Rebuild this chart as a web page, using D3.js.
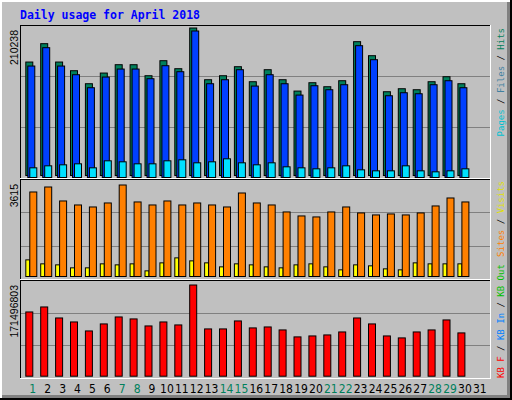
<!DOCTYPE html>
<html><head><meta charset="utf-8">
<script src="https://cdn.jsdelivr.net/npm/d3@7"></script>
<style>body{margin:0;background:#fff}svg{display:block}</style>
</head><body><svg width="512" height="400"></svg>
<script>
const days = d3.range(1, 32);
const weekend = [1, 7, 8, 14, 15, 21, 22, 28, 29];
const hits = [161721,187882,161721,149354,130804,146025,157916,157916,142220,163624,152208,210238,136512,142220,155062,133658,150781,136512,120340,132231,126523,135085,190735,170758,119388,123669,122242,133658,140792,130804];
const files = [158867,185028,158867,146500,127950,143171,154586,154586,140792,159343,150781,208811,133658,139365,153635,130328,146500,133658,117486,130804,125096,132231,187882,167904,116534,120815,119388,132231,137939,127950];
const pages = [13794,16648,18075,19502,13794,23783,22356,19502,19502,23783,25210,20929,22356,26636,20929,18075,20929,15221,13794,12367,13794,16648,10940,9513,9513,16648,9513,8086,9513,12367];
const sites = [3339,3536,2984,2826,2747,2905,3615,2945,2826,2984,2826,2905,2826,2747,3299,2905,2826,2550,2392,2353,2550,2747,2511,2432,2471,2432,2511,2787,3102,2945];
const visits = [657,500,460,342,342,500,460,500,223,539,736,618,539,381,500,460,381,342,460,500,381,263,460,421,302,263,539,500,500,500];
const kbytes = [120.8,130.2,109.5,102.0,85.1,98.3,111.4,107.7,94.5,102.0,96.4,171.5,88.9,88.9,103.9,90.8,92.6,87.0,73.9,75.7,77.6,83.2,109.5,98.3,75.7,72.0,83.2,87.0,105.8,81.4].map(v => Math.round(v * 1e6));

const svg = d3.select("svg");
// frame
svg.append("rect").attr("width", 512).attr("height", 400).attr("fill", "#000");
svg.append("rect").attr("width", 510).attr("height", 398).attr("fill", "#fff");
svg.append("rect").attr("x", 2).attr("y", 2).attr("width", 508).attr("height", 396).attr("fill", "#808080");
svg.append("rect").attr("x", 2).attr("y", 2).attr("width", 505).attr("height", 393).attr("fill", "#c0c0c0");

svg.append("text").attr("x", 20).attr("y", 19).text("Daily usage for April 2018")
  .attr("fill", "#0000ff").attr("font-family", "DejaVu Sans Mono").attr("font-weight", "bold").attr("font-size", 11.5);

const x = d3.scaleLinear().domain([1, 31]).range([25.3, 25.3 + 30 * 14.9]);

const panels = [
  {top: 25, bot: 177, max: d3.max(hits), label: "210238"},
  {top: 180, bot: 276, max: d3.max(sites), label: "3615"},
  {top: 280, bot: 375.7, max: d3.max(kbytes), label: "171496803"}
];
const panelBox = [[25, 178], [179, 279], [280, 378]];
panelBox.forEach(([t, b], i) => {
  const g = svg.append("g");
  g.append("line").attr("x1", 20).attr("x2", 491).attr("y1", t + 0.5).attr("y2", t + 0.5).attr("stroke", "#000");
  g.append("line").attr("x1", 20.5).attr("x2", 20.5).attr("y1", t).attr("y2", b).attr("stroke", "#000");
  g.append("line").attr("x1", 20).attr("x2", 491).attr("y1", b + 0.5).attr("y2", b + 0.5).attr("stroke", "#fff");
  g.append("line").attr("x1", 490.5).attr("x2", 490.5).attr("y1", t).attr("y2", b).attr("stroke", "#fff");
  const p = panels[i];
  const h = b - t;
  [1, 2].forEach(k => {
    const yy = Math.round(b - h * k / 3) + 0.5;
    g.append("line").attr("x1", 21).attr("x2", 490).attr("y1", yy).attr("y2", yy).attr("stroke", "#808080");
  });
  g.append("text").attr("transform", `translate(18,${t + 5}) rotate(-90)`).attr("text-anchor", "end")
    .attr("font-family", "Liberation Sans").attr("font-size", 10.5).attr("fill", "#000").text(p.label);
});

function bars(data, panel, dx, w, fill, dy) {
  const y = d3.scaleLinear().domain([0, panel.max]).range([panel.bot, panel.top + 4.5]);
  svg.append("g").selectAll("rect").data(data).enter().append("rect")
    .attr("x", (d, i) => x(i + 1) + dx + 0.5)
    .attr("y", d => y(d) + 0.5 - (dy || 0))
    .attr("width", w)
    .attr("height", d => panel.bot - y(d))
    .attr("fill", fill).attr("stroke", "#000");
}
bars(hits, panels[0], 0, 7, "#00805c", 2);
bars(files, panels[0], 2, 7, "#0040ff", 0);
bars(pages, panels[0], 4, 7, "#00e0ff", 0);
bars(visits, panels[1], 0, 4, "#ffff00", 0);
bars(sites, panels[1], 4, 7, "#ff8000", 0);
bars(kbytes, panels[2], 0, 7, "#ff0000", 0);

svg.append("g").selectAll("text").data(days).enter().append("text")
  .attr("x", d => x(d) + 7.5).attr("y", 393).attr("text-anchor", "middle")
  .attr("font-family", "Liberation Sans Narrow, DejaVu Sans Condensed").attr("font-stretch", "condensed").attr("font-size", 12)
  .attr("fill", d => weekend.includes(d) ? "#00805c" : "#000").text(d => d);

function legend(parts, y, anchor) {
  const t = svg.append("text").attr("transform", `translate(504,${y}) rotate(-90)`).attr("text-anchor", anchor)
    .attr("font-family", "DejaVu Sans Mono").attr("font-size", 9);
  parts.forEach((p, i) => {
    if (i) t.append("tspan").attr("fill", "#000").text(" / ");
    t.append("tspan").attr("fill", p[1]).text(p[0]);
  });
}
legend([["Pages", "#00c0d0"], ["Files", "#4080a0"], ["Hits", "#00805c"]], 28, "end");
legend([["Sites", "#ff8000"], ["Visits", "#e0e000"]], 181, "end");
legend([["KB F", "#ff0000"], ["KB In", "#0080ff"], ["KB Out", "#00c000"]], 378, "start");
</script></body></html>
